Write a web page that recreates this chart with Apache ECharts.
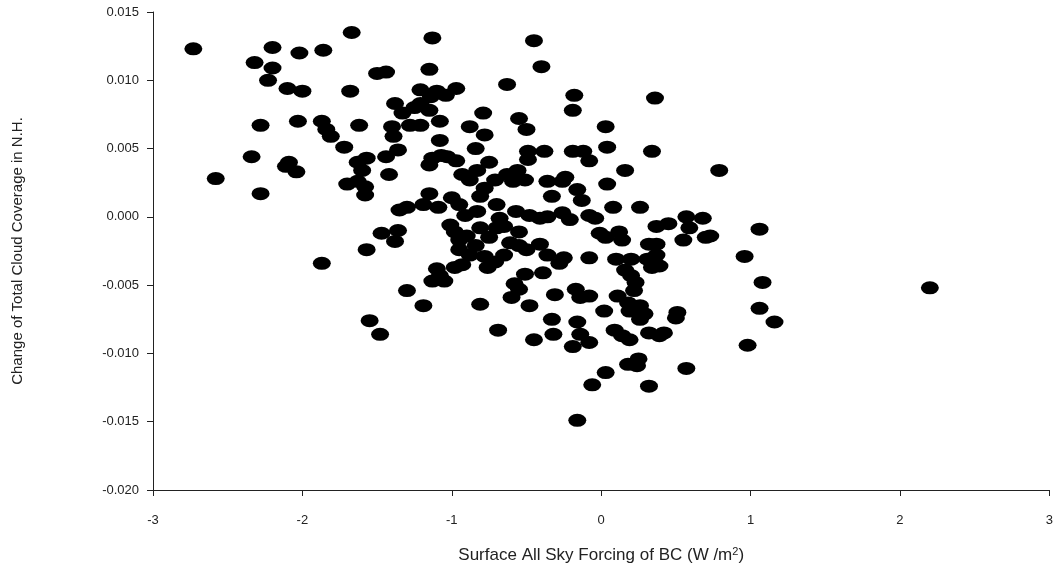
<!DOCTYPE html>
<html>
<head>
<meta charset="utf-8">
<script src="https://cdn.jsdelivr.net/npm/echarts@6/dist/echarts.min.js"></script>
<style>
  html, body { margin: 0; padding: 0; background: #fff; }
  #chart { width: 1056px; height: 575px; }
</style>
</head>
<body>
<div id="chart"></div>
<script>
// forcing (W/m2) and cloud change
var forcing = [
  -2.73, -2.32, -2.20, -2.20, -2.23, -2.10, -2.02, -1.86, -1.67, -2.00,
  -1.68, -2.28, -2.03, -1.87, -1.84, -1.81, -1.62, -2.34, -2.09, -2.11,
  -2.04, -2.58, -2.28, -1.72, -1.63, -1.60, -1.57, -1.70, -1.63, -1.58,
  -1.58, -1.50, -1.44, -1.44, -1.42, -1.38, -1.40, -1.39, -1.36, -1.33,
  -1.25, -1.21, -1.21, -1.14, -1.28, -1.21, -1.13, -1.15, -1.10, -1.04,
  -0.97, -1.15, -1.08, -1.08, -1.07, -1.13, -1.15, -0.97, -1.03, -0.88,
  -0.79, -0.78, -0.45, -0.40, -0.63, -0.55, -0.50, -0.18, -0.19, 0.03,
  0.36, -0.84, -0.93, -0.88, -0.83, -0.75, -0.71, -0.78, -0.81, -0.70,
  -0.63, -0.59, -0.56, -0.51, -0.49, -0.49, -0.38, -0.36, -0.33, -0.26,
  -0.24, -0.19, -0.12, -0.08, -0.16, -0.13, 0.04, 0.04, 0.16, 0.26,
  0.34, 0.79, -1.00, -1.15, -1.30, -1.35, -1.19, -1.09, -0.95, -0.91,
  -0.83, -0.57, -0.48, -0.41, -0.36, -0.26, -0.21, -0.08, -0.04, 0.08,
  -0.01, 0.03, 0.12, 0.14, 0.10, 0.32, 0.37, 0.45, 0.57, 0.59,
  0.68, 0.70, 0.73, 0.55, 0.37, 0.20, 1.06, 0.96, 1.08, 1.06,
  1.16, 0.98, 0.57, 2.20, -1.87, -1.57, -1.47, -1.38, -1.36, -1.30,
  -1.19, -1.55, -1.48, -1.13, -1.08, -1.10, -1.05, -0.98, -0.93, -1.01,
  -0.98, -0.95, -0.90, -0.84, -0.88, -0.78, -0.75, -0.76, -0.71, -0.65,
  -0.61, -0.65, -0.55, -0.55, -0.50, -0.41, -0.36, -0.39, -0.51, -0.58,
  -0.55, -0.60, -0.69, -0.48, -0.45, -0.33, -0.32, -0.31, -0.25, -0.28,
  -0.17, -0.14, -0.08, -0.16, -0.14, -0.19, -0.08, -0.08, 0.02, 0.11,
  0.18, 0.16, 0.20, 0.23, 0.22, 0.26, 0.29, 0.26, 0.19, 0.09,
  0.14, 0.19, 0.32, 0.39, 0.42, 0.51, 0.50, 0.34, 0.39, 0.37,
  0.31, 0.25, 0.24, 0.18, 0.03, -0.06, 0.32, -0.16, -0.81, -0.81,
  -0.70, -0.68, -0.95
];
var cloudChange = [
  0.0123, 0.0113, 0.0124, 0.0109, 0.0100, 0.0094, 0.0120, 0.0122, 0.0135, 0.0092,
  0.0092, 0.0067, 0.0070, 0.0070, 0.0064, 0.0059, 0.0067, 0.0044, 0.0040, 0.0037,
  0.0033, 0.0028, 0.0017, 0.0051, 0.0040, 0.0034, 0.0043, 0.0024, 0.0026, 0.0022,
  0.0016, 0.0105, 0.0106, 0.0044, 0.0031, 0.0083, 0.0066, 0.0059, 0.0049, 0.0076,
  0.0080, 0.0093, 0.0083, 0.0088, 0.0067, 0.0067, 0.0131, 0.0108, 0.0092, 0.0089,
  0.0094, 0.0078, 0.0070, 0.0056, 0.0045, 0.0043, 0.0038, 0.0041, 0.0044, 0.0066,
  0.0076, 0.0060, 0.0129, 0.0110, 0.0097, 0.0072, 0.0064, 0.0089, 0.0078, 0.0066,
  0.0087, 0.0050, 0.0031, 0.0027, 0.0034, 0.0040, 0.0027, 0.0021, 0.0015, 0.0009,
  0.0031, 0.0026, 0.0034, 0.0027, 0.0048, 0.0042, 0.0048, 0.0026, 0.0015, 0.0026,
  0.0029, 0.0048, 0.0048, 0.0041, 0.0020, 0.0012, 0.0051, 0.0024, 0.0034, 0.0007,
  0.0048, 0.0034, 0.0014, 0.0017, 0.0007, 0.0005, 0.0009, 0.0007, 0.0009, 0.0001,
  0.0004, 0.0004, 0.0001, -0.0001, 0.0000, 0.0003, -0.0002, 0.0001, -0.0001, 0.0007,
  -0.0012, -0.0015, -0.0011, -0.0017, -0.0031, -0.0020, -0.0007, -0.0005, 0.0000, -0.0008,
  -0.0001, -0.0015, -0.0014, -0.0017, -0.0020, -0.0031, -0.0009, -0.0029, -0.0048, -0.0067,
  -0.0077, -0.0094, -0.0111, -0.0052, -0.0034, -0.0024, -0.0012, -0.0018, -0.0010, -0.0054,
  -0.0065, -0.0076, -0.0086, -0.0047, -0.0043, -0.0038, -0.0047, -0.0037, -0.0035, -0.0006,
  -0.0011, -0.0017, -0.0014, -0.0021, -0.0028, -0.0029, -0.0015, -0.0037, -0.0033, -0.0028,
  -0.0019, -0.0007, -0.0011, -0.0021, -0.0024, -0.0020, -0.0028, -0.0041, -0.0042, -0.0049,
  -0.0053, -0.0059, -0.0083, -0.0065, -0.0090, -0.0075, -0.0086, -0.0057, -0.0030, -0.0034,
  -0.0053, -0.0059, -0.0058, -0.0077, -0.0086, -0.0095, -0.0092, -0.0030, -0.0069, -0.0058,
  -0.0063, -0.0039, -0.0043, -0.0048, -0.0054, -0.0065, -0.0071, -0.0075, -0.0069, -0.0083,
  -0.0087, -0.0090, -0.0085, -0.0087, -0.0085, -0.0070, -0.0074, -0.0037, -0.0036, -0.0028,
  -0.0031, -0.0104, -0.0109, -0.0108, -0.0114, -0.0123, -0.0124, -0.0149, -0.0064, -0.0008,
  -0.0008, -0.0001, -0.0024
];

var points = forcing.map(function (x, i) { return [x, cloudChange[i]]; });

var chart = echarts.init(document.getElementById('chart'));
var axisColor = '#222';
var option = {
    animation: false,
    grid: { left: 153, right: 6, top: 12, bottom: 85 },
    xAxis: {
        type: 'value',
        min: -3, max: 3, interval: 1,
        name: 'Surface All Sky Forcing of BC (W /m{sup|2})',
        nameLocation: 'middle',
        nameGap: 56,
        nameTextStyle: {
            fontFamily: 'Liberation Sans', fontSize: 17, color: '#222',
            rich: { sup: { fontSize: 11, verticalAlign: 'top', padding: [0, 0, 8, 0] } }
        },
        axisLine: { show: true, onZero: false, lineStyle: { color: axisColor, width: 1 } },
        axisTick: { show: true, inside: false, length: 6, lineStyle: { color: axisColor } },
        axisLabel: { fontFamily: 'Liberation Sans', fontSize: 13, color: '#222', margin: 24 },
        splitLine: { show: false }
    },
    yAxis: {
        type: 'value',
        min: -0.02, max: 0.015, interval: 0.005,
        name: 'Change of Total Cloud Coverage in N.H.',
        nameLocation: 'middle',
        nameGap: 128,
        nameTextStyle: { fontFamily: 'Liberation Sans', fontSize: 15, color: '#222' },
        axisLine: { show: true, onZero: false, lineStyle: { color: axisColor, width: 1 } },
        axisTick: { show: true, inside: false, length: 6, lineStyle: { color: axisColor } },
        axisLabel: {
            fontFamily: 'Liberation Sans', fontSize: 13, color: '#222', margin: 14,
            formatter: function (v) { return v.toFixed(3); }
        },
        splitLine: { show: false }
    },
    series: [{
        type: 'scatter',
        data: points,
        symbol: 'circle',
        symbolSize: [18, 13],
        itemStyle: { color: '#000', opacity: 1 }
    }]
};
chart.setOption(option);
</script>
</body>
</html>
